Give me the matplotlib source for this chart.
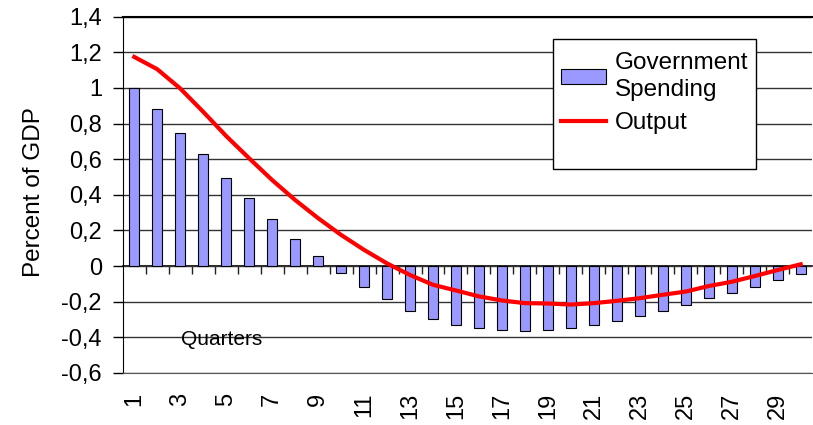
import matplotlib.pyplot as plt
from matplotlib.patches import Rectangle

plt.rcParams['font.family'] = ['Liberation Sans', 'DejaVu Sans']

quarters = list(range(1, 31))
spending = [1.0, 0.88, 0.745, 0.63, 0.496, 0.38, 0.265, 0.15, 0.055, -0.04,
            -0.12, -0.187, -0.25, -0.297, -0.328, -0.35, -0.357, -0.364, -0.357, -0.35,
            -0.328, -0.31, -0.282, -0.25, -0.218, -0.181, -0.15, -0.12, -0.08, -0.047]
output = [1.174, 1.105, 0.997, 0.866, 0.73, 0.605, 0.483, 0.371, 0.269, 0.175,
          0.091, 0.015, -0.05, -0.105, -0.137, -0.17, -0.193, -0.208, -0.21, -0.216,
          -0.208, -0.195, -0.18, -0.161, -0.143, -0.112, -0.088, -0.056, -0.022, 0.01]
yticks = [1.4, 1.2, 1.0, 0.8, 0.6, 0.4, 0.2, 0.0, -0.2, -0.4, -0.6]
ytick_labels = ['1,4', '1,2', '1', '0,8', '0,6', '0,4', '0,2', '0', '-0,2', '-0,4', '-0,6']
xtick_labels = [str(q) for q in quarters[::2]]

fig = plt.figure(figsize=(8.13, 4.25), dpi=100)
ax = fig.add_axes([0.151, 0.1224, 0.848, 0.8384])

bars = ax.bar(quarters, spending, width=0.45, color='#9999FF', edgecolor='black',
              linewidth=0.8, label='Government\nSpending', zorder=3)
line, = ax.plot(quarters, output, color='#FF0000', lw=3, label='Output', zorder=4)

ax.set_xlim(0.5, 30.5)
ax.set_ylim(-0.6, 1.4)
ax.set_yticks(yticks)
ax.set_yticklabels(ytick_labels)
ax.yaxis.grid(True, color='#333333', lw=1)
ax.set_axisbelow(True)
ax.tick_params(axis='y', direction='out', length=7, width=1, pad=8, labelsize=17)

# quarter labels sit under the plot, tick marks sit on the zero line
ax.set_xticks(quarters[::2])
ax.set_xticklabels(xtick_labels, rotation=90)
ax.tick_params(axis='x', length=0, pad=14, labelsize=17)

zero_axis = ax.secondary_xaxis(0.3)
zero_axis.set_xticks([q + 0.5 for q in quarters[:-1]], minor=True)
zero_axis.set_xticks([])
zero_axis.tick_params(which='minor', direction='out', length=6, width=1, color='#222222')
zero_axis.spines['bottom'].set_linewidth(1.2)

ax.spines['right'].set_visible(False)
ax.spines['bottom'].set_color('#555555')
ax.spines['top'].set_linewidth(1.5)

ax.set_ylabel('Percent of GDP', fontsize=17.5)
ax.yaxis.set_label_coords(-0.113, 0.507)
ax.text(3.04, -0.41, 'Quarters', fontsize=15, ha='left', va='center')

ax.add_patch(Rectangle((0.624, 0.5725), 0.295, 0.364, transform=ax.transAxes,
                       facecolor='white', edgecolor='black', lw=1, zorder=5))
leg = ax.legend(handles=[bars, line], loc='upper left', bbox_to_anchor=(0.6357, 0.901),
                frameon=False, fontsize=17.5, borderpad=0, borderaxespad=0,
                handlelength=1.85, handleheight=0.62, handletextpad=0.37,
                labelspacing=0.45)
for t in leg.get_texts():
    t.set_linespacing(1.3)
leg.set_zorder(6)

fig.savefig('out.png', dpi=100)
